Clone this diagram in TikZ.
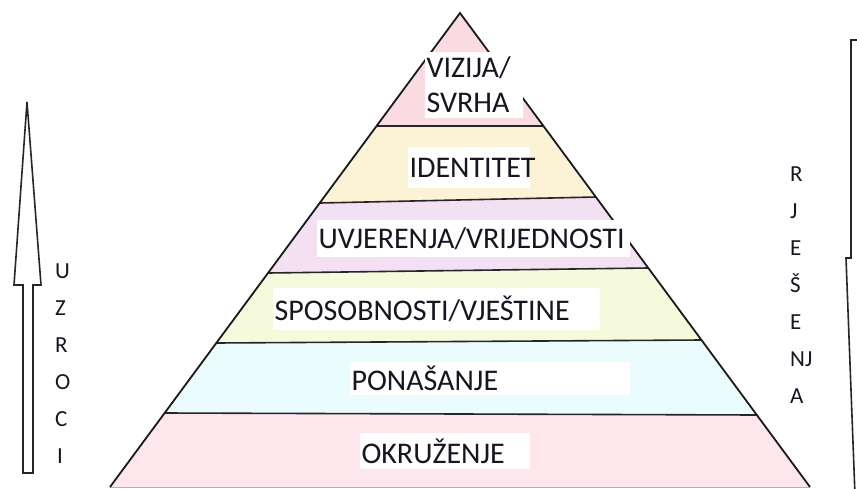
\documentclass[tikz,border=0pt]{standalone}
\usepackage{fontspec}
\setmainfont{Carlito}
\definecolor{vizcol}{RGB}{249,219,225}
\definecolor{idcol}{RGB}{252,243,215}
\definecolor{uvcol}{RGB}{243,224,243}
\definecolor{spcol}{RGB}{246,250,221}
\definecolor{pocol}{RGB}{234,252,253}
\definecolor{okcol}{RGB}{253,231,237}
\definecolor{txtcol}{RGB}{22,22,34}
\tikzset{
  sep/.style={draw=black!85, line width=1.6pt},
  edge/.style={draw=black!90, line width=1.8pt, line join=miter},
  lbl/.style={fill=white, inner xsep=1.5pt, inner ysep=0pt, align=left, text=txtcol,
    font=\fontsize{30}{35}\selectfont},
  side/.style={anchor=base west, inner sep=0pt, text=txtcol, font=\fontsize{23}{23}\selectfont},
  bigarrow/.style={draw=black!85, line width=1.6pt, fill=white, line join=miter}
}
\begin{document}
\begin{tikzpicture}[x=1pt,y=-1pt]
		\useasboundingbox (0,0) rectangle (857,488);
		\clip (0,0) rectangle (857,488);
		% pyramid corners
		\coordinate (top) at (460,13);
		\coordinate (l1) at (377,126);
		\coordinate (r1) at (543,126);
		\coordinate (l2) at (320,203);
		\coordinate (r2) at (596,197);
		\coordinate (l3) at (268,273);
		\coordinate (r3) at (648,268);
		\coordinate (l4) at (216,343);
		\coordinate (r4) at (701,340);
		\coordinate (l5) at (165,413);
		\coordinate (r5) at (757,415);
		\coordinate (l6) at (110,487);
		\coordinate (r6) at (810,487);
		% bands
		\fill [vizcol] (top) -- (r1) -- (l1) -- cycle;
		\fill [idcol] (l1) -- (r1) -- (r2) -- (l2) -- cycle;
		\fill [uvcol] (l2) -- (r2) -- (r3) -- (l3) -- cycle;
		\fill [spcol] (l3) -- (r3) -- (r4) -- (l4) -- cycle;
		\fill [pocol] (l4) -- (r4) -- (r5) -- (l5) -- cycle;
		\fill [okcol] (l5) -- (r5) -- (r6) -- (l6) -- cycle;
		\draw [sep] (l1) -- (r1);
		\draw [sep] (l2) -- (r2);
		\draw [sep] (l3) -- (r3);
		\draw [sep] (l4) -- (r4);
		\draw [sep] (l5) -- (r5);
		\draw [black!30, line width=1pt] (l6) -- (r6);
		\draw [edge] (l6) -- (top) -- (r6);
		% labels
		\node[lbl, text width=95pt, minimum height=66pt] (vizija) at (474,85) {VIZIJA/\\SVRHA};
		\node[lbl, text width=119pt, minimum height=41pt] (identitet) at (469,167.5) {IDENTITET};
		\node[lbl, text width=310pt, minimum height=37pt] (uvjerenja) at (473.5,238.5) {UVJERENJA/VRIJEDNOSTI};
		\node[lbl, text width=324pt, minimum height=42pt] (sposobnosti) at (436.5,309) {SPOSOBNOSTI/VJEŠTINE};
		\node[lbl, text width=277pt, minimum height=33pt] (ponasanje) at (490,378.5) {PONAŠANJE};
		\node[lbl, text width=167pt, minimum height=36pt] (okruzenje) at (445,451) {OKRUŽENJE};
		% arrows
		\draw [bigarrow] (27,102) -- (41,285) -- (33,285) -- (33,473) -- (23,473) -- (23,285) -- (14,285) -- cycle;
		\draw [bigarrow] (851,40) -- (875,40) -- (875,258) -- (878,258) -- (862,680) -- (846,258) -- (851,258) -- cycle;
		% side words
		\node[side] (uz1) at (55,278) {U};
		\node[side] (uz2) at (55,315) {Z};
		\node[side] (uz3) at (55,352) {R};
		\node[side] (uz4) at (55,389) {O};
		\node[side] (uz5) at (55,426) {C};
		\node[side] (uz6) at (57,463) {I};
		\node[side] (rj1) at (790,181) {R};
		\node[side] (rj2) at (790,218) {J};
		\node[side] (rj3) at (790,255) {E};
		\node[side] (rj4) at (790,292) {Š};
		\node[side] (rj5) at (790,329) {E};
		\node[side] (rj6) at (790,366) {NJ};
		\node[side] (rj7) at (790,403) {A};
	\end{tikzpicture}
\end{document}
